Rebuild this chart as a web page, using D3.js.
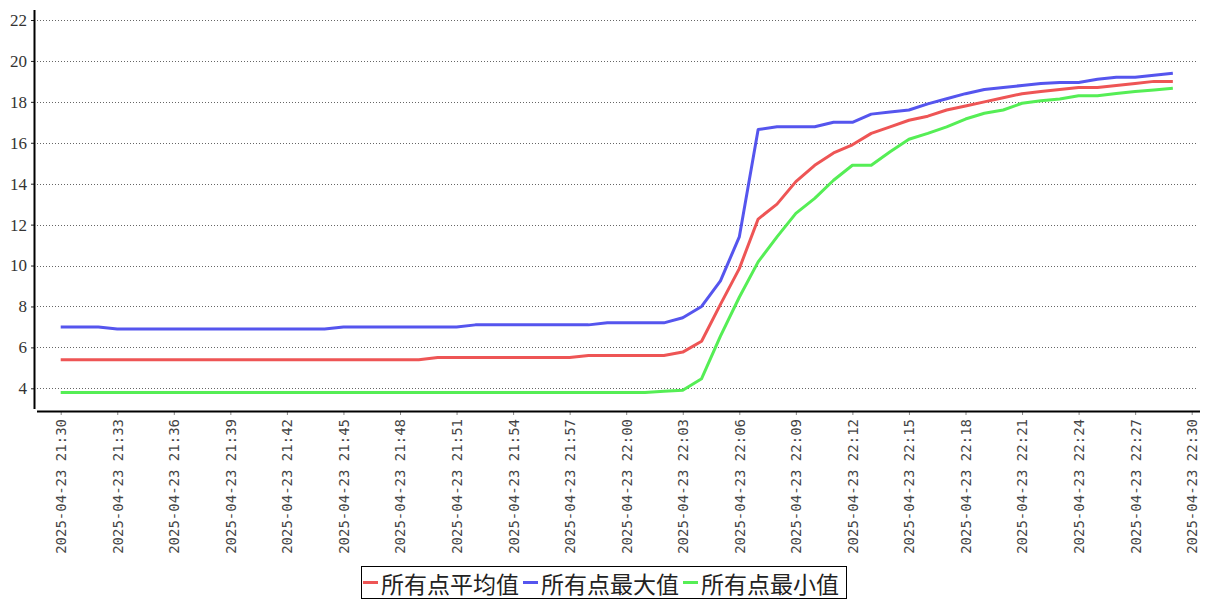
<!DOCTYPE html>
<html>
<head>
<meta charset="utf-8">
<script src="https://cdn.jsdelivr.net/npm/d3@7/dist/d3.min.js"></script>
<style>
html,body{margin:0;padding:0;background:#fff;}
svg{display:block;}
</style>
</head>
<body>
<svg id="chart" width="1207" height="600"></svg>
<script>
// ---- data (one point per minute, 2025-04-23 21:30 .. 22:29) ----
const startTime = "2025-04-23 21:30";
const endTime = "2025-04-23 22:30";
const seriesNames = ["所有点平均值", "所有点最大值", "所有点最小值"];
const seriesColors = ["#ee5555", "#5555ee", "#55ee55"];
const avgValues = [
  5.4,5.4,5.4,5.4,5.4,5.4,5.4,5.4,5.4,5.4,
  5.4,5.4,5.4,5.4,5.4,5.4,5.4,5.4,5.4,5.4,
  5.5,5.5,5.5,5.5,5.5,5.5,5.5,5.5,5.6,5.6,
  5.6,5.6,5.6,5.77,6.3,8.1,9.85,12.27,13.0,14.1,
  14.9,15.5,15.9,16.46,16.78,17.1,17.3,17.6,17.8,18.0,
  18.2,18.4,18.5,18.6,18.7,18.7,18.8,18.9,19.0,19.0
];
const maxValues = [
  7.0,7.0,7.0,6.9,6.9,6.9,6.9,6.9,6.9,6.9,
  6.9,6.9,6.9,6.9,6.9,7.0,7.0,7.0,7.0,7.0,
  7.0,7.0,7.1,7.1,7.1,7.1,7.1,7.1,7.1,7.2,
  7.2,7.2,7.2,7.45,8.0,9.25,11.4,16.65,16.78,16.78,
  16.78,17.0,17.0,17.4,17.5,17.6,17.9,18.15,18.4,18.6,
  18.7,18.8,18.9,18.95,18.95,19.1,19.2,19.2,19.3,19.4
];
const minValues = [
  3.8,3.8,3.8,3.8,3.8,3.8,3.8,3.8,3.8,3.8,
  3.8,3.8,3.8,3.8,3.8,3.8,3.8,3.8,3.8,3.8,
  3.8,3.8,3.8,3.8,3.8,3.8,3.8,3.8,3.8,3.8,
  3.8,3.8,3.85,3.9,4.47,6.55,8.45,10.18,11.4,12.55,
  13.28,14.17,14.9,14.9,15.56,16.17,16.46,16.78,17.16,17.44,
  17.6,17.93,18.05,18.14,18.3,18.3,18.41,18.5,18.58,18.66
];
const yTicks = [4, 6, 8, 10, 12, 14, 16, 18, 20, 22];

// ---- setup ----
const parse = d3.timeParse("%Y-%m-%d %H:%M");
const t0 = parse(startTime), t1 = parse(endTime);
const times = avgValues.map((_, i) => d3.timeMinute.offset(t0, i));
const seriesValues = [avgValues, maxValues, minValues];

const svg = d3.select("#chart");
const x = d3.scaleTime().domain([t0, t1]).range([60.7, 1191.7]);
const y = d3.scaleLinear().domain([4, 22]).range([388.3, 20]);

// grid
svg.append("g").selectAll("line").data(yTicks).join("line")
  .attr("x1", 37).attr("x2", 1197)
  .attr("y1", d => Math.round(y(d)) + 0.5).attr("y2", d => Math.round(y(d)) + 0.5)
  .attr("stroke", "#666").attr("stroke-width", 1).attr("stroke-dasharray", "1,2");

// y axis
const yAxis = d3.axisLeft(y).tickValues(yTicks).tickSize(3).tickPadding(4).tickFormat(d3.format("d"));
const gy = svg.append("g").attr("transform", "translate(34,0)").call(yAxis);
gy.select(".domain").remove();
gy.selectAll(".tick line").attr("stroke", "#222");
gy.selectAll(".tick text").attr("font-family", "'Liberation Serif', serif").attr("font-size", 17).attr("fill", "#333");
svg.append("line").attr("x1", 34.5).attr("x2", 34.5).attr("y1", 10).attr("y2", 409)
  .attr("stroke", "#000").attr("stroke-width", 2);

// x axis
const xAxis = d3.axisBottom(x).ticks(d3.timeMinute.every(3)).tickSize(4).tickPadding(6)
  .tickFormat(d3.timeFormat("%Y-%m-%d %H:%M"));
const gx = svg.append("g").attr("transform", "translate(0,411)").call(xAxis);
gx.select(".domain").remove();
gx.selectAll(".tick line").attr("stroke", "#888");
gx.selectAll(".tick text")
  .attr("font-family", "'DejaVu Sans Mono', monospace").attr("font-size", 14).attr("fill", "#444")
  .attr("transform", "rotate(-90)")
  .attr("text-anchor", "end").attr("dy", "0.35em").attr("x", -8).attr("y", 0);
svg.append("line").attr("x1", 37).attr("x2", 1200).attr("y1", 411.5).attr("y2", 411.5)
  .attr("stroke", "#000").attr("stroke-width", 2);

// lines
const line = d3.line().x((d, i) => x(times[i])).y(d => y(d));
svg.append("g").selectAll("path").data(seriesValues).join("path")
  .attr("d", d => line(d))
  .attr("fill", "none")
  .attr("stroke", (d, i) => seriesColors[i])
  .attr("stroke-width", 3)
  .attr("stroke-linejoin", "round");

// legend
const lg = svg.append("g");
const box = lg.append("rect").attr("x", 361.5).attr("y", 566.5).attr("width", 485).attr("height", 32)
  .attr("fill", "#fff").attr("stroke", "#000").attr("stroke-width", 1);
let cx = 363;
seriesNames.forEach((name, i) => {
  lg.append("line").attr("x1", cx).attr("x2", cx + 15).attr("y1", 582.5).attr("y2", 582.5)
    .attr("stroke", seriesColors[i]).attr("stroke-width", 3);
  const t = lg.append("text").attr("x", cx + 18).attr("y", 583)
    .attr("dominant-baseline", "central")
    .attr("font-family", "'Noto Sans CJK SC', sans-serif").attr("font-size", 23)
    .attr("fill", "#222").text(name);
  cx += 18 + t.node().getComputedTextLength() + 4;
});
</script>
</body>
</html>
